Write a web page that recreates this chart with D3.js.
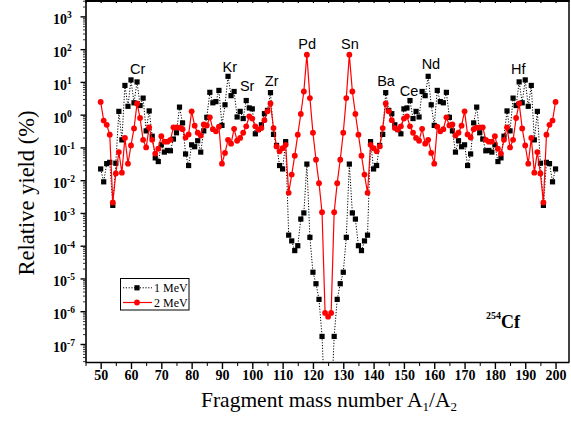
<!DOCTYPE html>
<html><head><meta charset="utf-8">
<script src="https://cdn.jsdelivr.net/npm/d3@7"></script>
<style>body{margin:0;background:#fff} svg{display:block}</style>
</head><body><svg id="c" width="571" height="428"></svg>
<script>
// ---------- DATA ----------
const massNumbers = d3.range(50, 201); // A1/A2 = 50 ... 200

// Relative yield (%) at 1 MeV, A = 50 ... 200
const yield1MeV = [
  0.022, 0.0089, 0.032, 0.035, 0.0017, 0.033, 1.26, 0.17, 7.8, 1.8,        // 50-59
  11.5, 2.3, 10, 1.9, 3.2, 0.32, 1.3, 0.22, 0.048, 0.037,                 // 60-69
  0.12, 0.072, 0.081, 0.079, 0.18, 0.28, 1.7, 0.56, 0.063, 0.028,         // 70-79
  0.12, 0.105, 0.16, 0.072, 0.32, 0.83, 4.8, 2.3, 2.5, 5.5,               // 80-89
  0.47, 2.0, 14.8, 3.8, 5.1, 0.85, 1.26, 0.76, 2.7, 1.6,                  // 90-99
  1.5, 0.26, 0.35, 0.49, 1.07, 1.35, 4.7, 0.25, 0.115, 0.028,             // 100-109
  0.022, 0.15, 2.1e-4, 1.4e-4, 7.1e-5, 1.0e-4, 6.5e-4, 1.0e-3, 0.031, 1.8e-4, // 110-119
  1.55e-5, 6.9e-6, 2.3e-6, 1.7e-7, 1e-9, 1e-10, 1e-9, 1.7e-7, 2.3e-6, 6.9e-6, // 120-129
  1.55e-5, 1.8e-4, 0.031, 1.0e-3, 6.5e-4, 1.0e-4, 7.1e-5, 1.4e-4, 2.1e-4, 0.15, // 130-139
  0.022, 0.028, 0.115, 0.25, 4.7, 1.35, 1.07, 0.49, 0.35, 0.26,           // 140-149
  1.5, 1.6, 2.7, 0.76, 1.26, 0.85, 5.1, 3.8, 14.8, 2.0,                   // 150-159
  0.47, 5.5, 2.5, 2.3, 4.8, 0.83, 0.32, 0.072, 0.16, 0.105,               // 160-169
  0.12, 0.028, 0.063, 0.56, 1.7, 0.28, 0.18, 0.079, 0.081, 0.072,         // 170-179
  0.12, 0.037, 0.048, 0.22, 1.3, 0.32, 3.2, 1.9, 10, 2.3,                 // 180-189
  11.5, 1.8, 7.8, 0.17, 1.26, 0.033, 0.0017, 0.035, 0.032, 0.0089,        // 190-199
  0.022                                                                   // 200
];

// Relative yield (%) at 2 MeV, A = 50 ... 200
const yield2MeV = [
  2.45, 0.66, 0.49, 0.245, 0.0021, 0.016, 0.072, 0.017, 0.195, 0.032,     // 50-59
  0.115, 0.38, 2.2, 0.79, 0.17, 0.10, 0.41, 0.17, 0.065, 0.091,           // 60-69
  0.22, 0.15, 0.15, 0.17, 0.41, 0.41, 0.40, 0.36, 0.20, 0.25,             // 70-79
  1.26, 0.46, 0.28, 0.23, 0.50, 0.47, 0.83, 0.36, 0.31, 0.43,             // 80-89
  0.032, 0.068, 0.17, 0.13, 0.37, 0.16, 0.195, 0.28, 0.44, 0.89,          // 90-99
  0.76, 0.44, 0.35, 0.39, 0.68, 1.26, 2.2, 0.39, 0.107, 0.076,            // 100-109
  0.095, 0.12, 0.0041, 0.0148, 0.056, 0.245, 1.05, 5.1, 68, 3.2,          // 110-119
  0.28, 0.042, 0.0081, 0.00105, 8.9e-7, 6.8e-7, 8.9e-7, 0.00105, 0.0081, 0.042, // 120-129
  0.28, 3.2, 68, 5.1, 1.05, 0.245, 0.056, 0.0148, 0.0041, 0.12,           // 130-139
  0.095, 0.076, 0.107, 0.39, 2.2, 1.26, 0.68, 0.39, 0.35, 0.44,           // 140-149
  0.76, 0.89, 0.44, 0.28, 0.195, 0.16, 0.37, 0.13, 0.17, 0.068,           // 150-159
  0.032, 0.43, 0.31, 0.36, 0.83, 0.47, 0.50, 0.23, 0.28, 0.46,            // 160-169
  1.26, 0.25, 0.20, 0.36, 0.40, 0.41, 0.41, 0.17, 0.15, 0.15,             // 170-179
  0.22, 0.091, 0.065, 0.17, 0.41, 0.10, 0.17, 0.79, 2.2, 0.38,            // 180-189
  0.115, 0.032, 0.195, 0.017, 0.072, 0.016, 0.0021, 0.245, 0.49, 0.66,    // 190-199
  2.45                                                                    // 200
];

const seriesNames = ["1 MeV", "2 MeV"];
const xTickValues = [50, 60, 70, 80, 90, 100, 110, 120, 130, 140, 150, 160, 170, 180, 190, 200];
const yTickExponents = [-7, -6, -5, -4, -3, -2, -1, 0, 1, 2, 3];

// element annotations: name, mass position, yield position (baseline)
const elementNames = ["Cr", "Kr", "Sr", "Zr", "Pd", "Sn", "Ba", "Ce", "Nd", "Hf"];
const elementMass  = [62.2, 92.6, 98.3, 106.4, 118.1, 132.2, 144.1, 151.7, 158.9, 187.7];
const elementYield = [17.5, 19.7, 5.1, 7.3, 98, 98, 7.4, 3.7, 24, 17.7];

// ---------- CHART ----------
const svg = d3.select("#c");
const L = 85.5, R = 569.5, T = 0.5, B = 362;
const x = d3.scaleLinear().domain([45, 204.6]).range([L, R]);
const y = d3.scaleLog().domain([Math.pow(10, -7.55), Math.pow(10, 3.5)]).range([B, 0]);

const serif = "'Liberation Serif','Times New Roman',serif";
const sans = "'Liberation Sans',Arial,sans-serif";

svg.append("defs").append("clipPath").attr("id", "clip")
  .append("rect").attr("x", L).attr("y", 0).attr("width", R - L).attr("height", B);

// frame top & right
svg.append("line").attr("x1", L).attr("x2", R).attr("y1", 1).attr("y2", 1)
  .attr("stroke", "#000").attr("stroke-width", 2);
svg.append("line").attr("x1", R - 0.5).attr("x2", R - 0.5).attr("y1", 0).attr("y2", B)
  .attr("stroke", "#000").attr("stroke-width", 1.5);
// top minor ticks (inward)
const topTicks = d3.range(45, 205, 5);
svg.append("g").attr("transform", `translate(0,1)`)
  .call(d3.axisBottom(x).tickValues(topTicks).tickSize(2).tickSizeOuter(0).tickFormat(""))
  .call(g => g.select(".domain").remove())
  .selectAll("line").attr("stroke-width", 1.2);

// x axis
const xMinor = d3.range(45, 205, 5).filter(v => v % 10 !== 0);
const gxMinor = svg.append("g").attr("transform", `translate(0,${B})`)
  .call(d3.axisBottom(x).tickValues(xMinor).tickSize(4).tickSizeOuter(0).tickFormat(""));
gxMinor.select(".domain").remove();
gxMinor.selectAll("line").attr("stroke-width", 1);

const gx = svg.append("g").attr("transform", `translate(0,${B})`)
  .call(d3.axisBottom(x).tickValues(xTickValues).tickSize(7).tickSizeOuter(0).tickPadding(8));
gx.select(".domain").attr("stroke-width", 1.6).attr("d", `M${L},0.5H${R}`);
gx.selectAll(".tick line").attr("stroke-width", 1.4);
gx.selectAll(".tick text").attr("font-family", serif).attr("font-weight", "bold")
  .attr("font-size", 14).attr("fill", "#000").attr("dy", "0.2em");

// y axis
const yMajor = yTickExponents.map(e => Math.pow(10, e));
const yMinor = [];
[-8, -7, -6, -5, -4, -3, -2, -1, 0, 1, 2, 3].forEach(e => {
  for (let k = 2; k <= 9; k++) {
    const v = k * Math.pow(10, e);
    if (v > y.domain()[0] && v < y.domain()[1]) yMinor.push(v);
  }
});
const gyMinor = svg.append("g").attr("transform", `translate(${L},0)`)
  .call(d3.axisLeft(y).tickValues(yMinor).tickSize(2.5).tickSizeOuter(0).tickFormat(""));
gyMinor.select(".domain").remove();
gyMinor.selectAll("line").attr("stroke-width", 0.8);

const gy = svg.append("g").attr("transform", `translate(${L},0)`)
  .call(d3.axisLeft(y).tickValues(yMajor).tickSize(5).tickSizeOuter(0).tickFormat(""));
gy.select(".domain").attr("stroke-width", 1.6).attr("d", `M0.5,0V${B}`);
gy.selectAll(".tick line").attr("stroke-width", 1.4);

const ylab = svg.append("g");
yTickExponents.forEach(e => {
  const t = ylab.append("text")
    .attr("x", 53).attr("y", y(Math.pow(10, e)) + 8)
    .attr("font-family", serif).attr("font-weight", "bold").attr("font-size", 14)
    .attr("fill", "#000");
  t.append("tspan").text("10");
  t.append("tspan").attr("dy", -6).attr("font-size", 9.5).text(String(e).replace("-", "-"));
});

// axis titles
svg.append("text").attr("transform", `translate(33.5,193) rotate(-90)`)
  .attr("text-anchor", "middle").attr("font-family", serif).attr("font-size", 22.5)
  .attr("fill", "#000").text("Relative yield (%)");

const xt = svg.append("text").attr("x", 329).attr("y", 406.5).attr("text-anchor", "middle")
  .attr("font-family", serif).attr("font-size", 21.5).attr("fill", "#000");
xt.append("tspan").text("Fragment mass number A");
xt.append("tspan").attr("font-size", 13).attr("dy", 4).text("1");
xt.append("tspan").attr("dy", -4).text("/A");
xt.append("tspan").attr("font-size", 13).attr("dy", 4).text("2");

// series
const data1 = massNumbers.map((a, i) => ({ a, v: yield1MeV[i] }));
const data2 = massNumbers.map((a, i) => ({ a, v: yield2MeV[i] }));
const line = d3.line().x(d => x(d.a)).y(d => y(d.v));

const plot = svg.append("g").attr("clip-path", "url(#clip)");
plot.append("path").datum(data1).attr("d", line).attr("fill", "none")
  .attr("stroke", "#000").attr("stroke-width", 1).attr("stroke-dasharray", "1.2,1.6");
plot.selectAll("rect.s1").data(data1).join("rect").attr("class", "s1")
  .attr("x", d => x(d.a) - 2.6).attr("y", d => y(d.v) - 2.6)
  .attr("width", 5.2).attr("height", 5.2).attr("fill", "#000");
plot.append("path").datum(data2).attr("d", line).attr("fill", "none")
  .attr("stroke", "#ff0000").attr("stroke-width", 1.2);
plot.selectAll("circle.s2").data(data2).join("circle").attr("class", "s2")
  .attr("cx", d => x(d.a)).attr("cy", d => y(d.v)).attr("r", 2.9).attr("fill", "#ff0000");

// element labels
elementNames.forEach((n, i) => {
  svg.append("text").attr("x", x(elementMass[i])).attr("y", y(elementYield[i]))
    .attr("text-anchor", "middle").attr("font-family", sans).attr("font-size", 14.5)
    .attr("fill", "#000").text(n);
});

// nucleus label
const cf = svg.append("text").attr("x", 486).attr("y", 327.7)
  .attr("font-family", serif).attr("font-weight", "bold").attr("fill", "#000");
cf.append("tspan").attr("font-size", 10).attr("dy", -9).text("254");
cf.append("tspan").attr("font-size", 18).attr("dy", 9).text("Cf");

// legend
const lg = svg.append("g");
lg.append("rect").attr("x", 120.5).attr("y", 278.5).attr("width", 68.5).attr("height", 31.5)
  .attr("fill", "#fff").attr("stroke", "#000").attr("stroke-width", 1);
const rows = [287.8, 302.5];
lg.append("line").attr("x1", 123).attr("x2", 152).attr("y1", rows[0]).attr("y2", rows[0])
  .attr("stroke", "#000").attr("stroke-width", 1).attr("stroke-dasharray", "1.2,1.6");
lg.append("rect").attr("x", 134.4).attr("y", rows[0] - 2.6).attr("width", 5.2).attr("height", 5.2).attr("fill", "#000");
lg.append("line").attr("x1", 123).attr("x2", 152).attr("y1", rows[1]).attr("y2", rows[1])
  .attr("stroke", "#ff0000").attr("stroke-width", 1.2);
lg.append("circle").attr("cx", 137).attr("cy", rows[1]).attr("r", 2.9).attr("fill", "#ff0000");
seriesNames.forEach((s, i) => {
  lg.append("text").attr("x", 154).attr("y", rows[i] + 4).attr("font-family", serif)
    .attr("font-size", 12).attr("fill", "#000").text(s);
});
</script></body></html>
